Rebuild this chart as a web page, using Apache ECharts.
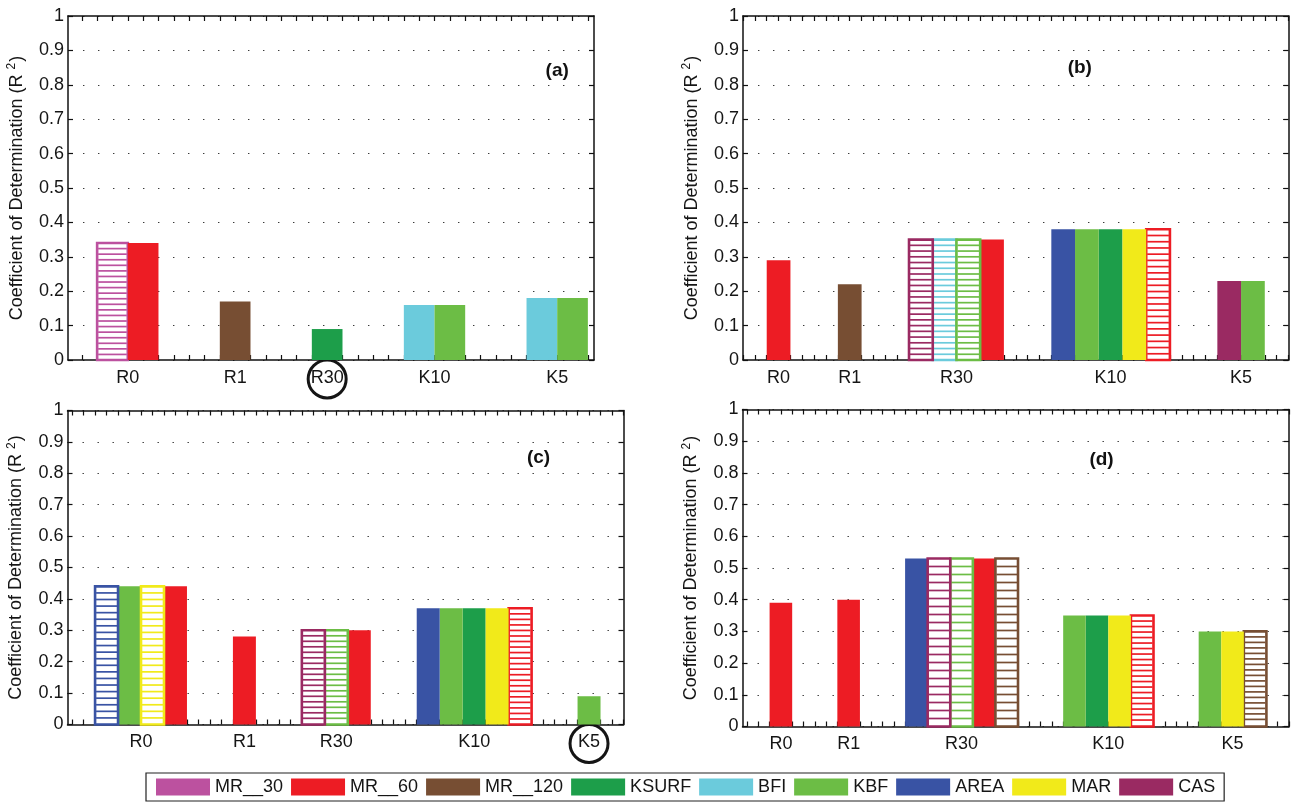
<!DOCTYPE html>
<html>
<head>
<meta charset="utf-8">
<script src="https://cdn.jsdelivr.net/npm/echarts@6/dist/echarts.min.js"></script>
<style>
  html, body { margin: 0; padding: 0; background: #fff; }
  #chart { width: 1291px; height: 802px; }
</style>
</head>
<body>
<div id="chart"></div>
<script>
// Predictor groups along each x axis
const groupNames = ['R0', 'R1', 'R30', 'K10', 'K5'];

// Series (legend order) and their colours
const seriesNames = ['MR__30', 'MR__60', 'MR__120', 'KSURF', 'BFI', 'KBF', 'AREA', 'MAR', 'CAS'];
const seriesColors = ['#BC519F', '#ED1C24', '#774E33', '#1D9E4A', '#6BCBDC', '#6CBD45', '#3953A4', '#F1EA1A', '#9A2A62'];

// R² per panel: one row per group, each bar is [series, R², hatched]
const barsA = [
  [['MR__30', 0.34, 1], ['MR__60', 0.34, 0]],
  [['MR__120', 0.17, 0]],
  [['KSURF', 0.09, 0]],
  [['BFI', 0.16, 0], ['KBF', 0.16, 0]],
  [['BFI', 0.18, 0], ['KBF', 0.18, 0]]
];
const barsB = [
  [['MR__60', 0.29, 0]],
  [['MR__120', 0.22, 0]],
  [['CAS', 0.35, 1], ['BFI', 0.35, 1], ['KBF', 0.35, 1], ['MR__60', 0.35, 0]],
  [['AREA', 0.38, 0], ['KBF', 0.38, 0], ['KSURF', 0.38, 0], ['MAR', 0.38, 0], ['MR__60', 0.38, 1]],
  [['CAS', 0.23, 0], ['KBF', 0.23, 0]]
];
const barsC = [
  [['AREA', 0.44, 1], ['KBF', 0.44, 0], ['MAR', 0.44, 1], ['MR__60', 0.44, 0]],
  [['MR__60', 0.28, 0]],
  [['CAS', 0.30, 1], ['KBF', 0.30, 1], ['MR__60', 0.30, 0]],
  [['AREA', 0.37, 0], ['KBF', 0.37, 0], ['KSURF', 0.37, 0], ['MAR', 0.37, 0], ['MR__60', 0.37, 1]],
  [['KBF', 0.09, 0]]
];
const barsD = [
  [['MR__60', 0.39, 0]],
  [['MR__60', 0.40, 0]],
  [['AREA', 0.53, 0], ['CAS', 0.53, 1], ['KBF', 0.53, 1], ['MR__60', 0.53, 0], ['MR__120', 0.53, 1]],
  [['KBF', 0.35, 0], ['KSURF', 0.35, 0], ['MAR', 0.35, 0], ['MR__60', 0.35, 1]],
  [['KBF', 0.30, 0], ['MAR', 0.30, 0], ['MR__120', 0.30, 1]]
];

const panelTags = ['(a)', '(b)', '(c)', '(d)'];
const tagPositions = [[15, 0.84], [13.2, 0.85], [19.3, 0.85], [14.7, 0.84]];
// group label to ring in each panel (-1 = none)
const ringedGroup = [2, -1, 4, -1];

const yTitle = 'Coefficient of Determination (R';
const FONT = '"Liberation Sans", Arial, Helvetica, sans-serif';

// Panel frames and x extents (in bar widths)
const panels = [
  { bars: barsA, grid: { left: 68, top: 16, width: 526, height: 344 }, xMin: -0.95, xMax: 16.2 },
  { bars: barsB, grid: { left: 743, top: 16, width: 545.5, height: 344 }, xMin: -1, xMax: 22 },
  { bars: barsC, grid: { left: 67.5, top: 410.5, width: 556, height: 314 }, xMin: -1.2, xMax: 23 },
  { bars: barsD, grid: { left: 742.5, top: 409.5, width: 546.5, height: 317 }, xMin: -1.2, xMax: 23 }
];

const GROUP_GAP = 2; // empty bar slots between groups

// Lay groups out left to right; each bar is one unit wide
function layout(bars) {
  let pos = 0;
  const centers = [];
  const placed = [];
  bars.forEach((grp) => {
    centers.push(pos + grp.length / 2);
    grp.forEach((b, bi) => placed.push({ series: b[0], value: b[1], hatched: b[2], x0: pos + bi }));
    pos += grp.length + GROUP_GAP;
  });
  return { centers, placed };
}

function renderBar(params, api) {
  const x0 = api.value(0), v = api.value(1), hatched = api.value(2);
  const tl = api.coord([x0, v]);
  const br = api.coord([x0 + 1, 0]);
  const x = tl[0], y = tl[1], w = br[0] - tl[0], h = br[1] - tl[1];
  const color = api.visual('color');
  if (!hatched) {
    return { type: 'rect', shape: { x: x, y: y, width: w, height: h }, style: { fill: color } };
  }
  const children = [{
    type: 'rect', shape: { x: x, y: y, width: w, height: h },
    style: { fill: '#fff', stroke: color, lineWidth: 2.6 }
  }];
  const step = Math.max(5.5, h / 21);
  for (let yy = y + step; yy < br[1] - 2; yy += step) {
    children.push({
      type: 'line', shape: { x1: x + 1, y1: yy, x2: x + w - 1, y2: yy },
      style: { stroke: color, lineWidth: 1.7 }
    });
  }
  return { type: 'group', children: children };
}

const grids = [], xAxes = [], yAxes = [], series = [];
const layouts = [];

panels.forEach((p, pi) => {
  const lay = layout(p.bars);
  layouts.push(lay);
  grids.push(Object.assign({ containLabel: false }, p.grid));

  const halfTicks = [];
  for (let t = Math.ceil(p.xMin * 2) / 2; t <= p.xMax + 1e-9; t += 0.5) halfTicks.push(t);

  const labelFor = (v) => {
    for (let i = 0; i < lay.centers.length; i++) {
      if (Math.abs(lay.centers[i] - v) < 1e-6) return groupNames[i];
    }
    return '';
  };

  const axisLine = { show: true, onZero: false, lineStyle: { color: '#111', width: 1.5 } };
  xAxes.push({
    gridIndex: pi, type: 'value', position: 'bottom', min: p.xMin, max: p.xMax,
    axisLine: axisLine,
    axisTick: { show: true, inside: true, length: 5, customValues: halfTicks, lineStyle: { color: '#111', width: 1.2 } },
    axisLabel: { show: true, customValues: lay.centers, formatter: labelFor, margin: 9, fontSize: 18, color: '#151515', fontFamily: FONT },
    splitLine: { show: false }
  });
  xAxes.push({
    gridIndex: pi, type: 'value', position: 'top', min: p.xMin, max: p.xMax,
    axisLine: axisLine,
    axisTick: { show: true, inside: true, length: 5, customValues: halfTicks, lineStyle: { color: '#111', width: 1.2 } },
    axisLabel: { show: false },
    splitLine: { show: false }
  });
  yAxes.push({
    gridIndex: pi, type: 'value', position: 'left', min: 0, max: 1, interval: 0.1,
    axisLine: axisLine,
    axisTick: { show: true, inside: true, length: 5, lineStyle: { color: '#111', width: 1.2 } },
    axisLabel: { margin: 4, fontSize: 18, color: '#151515', fontFamily: FONT },
    splitLine: { show: true, lineStyle: { color: '#3a3a3a', width: 1.2, type: [1.4, 13.6] } },
    name: '{t|' + yTitle + ' }{s|2}{t|)}',
    nameLocation: 'middle', nameRotate: 90, nameGap: 40,
    nameTextStyle: {
      rich: {
        t: { fontSize: 18, color: '#151515', fontFamily: FONT, lineHeight: 22 },
        s: { fontSize: 12, color: '#151515', fontFamily: FONT, verticalAlign: 'top', lineHeight: 22, padding: [0, 1, 10, 0] }
      }
    }
  });
  yAxes.push({
    gridIndex: pi, type: 'value', position: 'right', min: 0, max: 1, interval: 0.1,
    axisLine: axisLine,
    axisTick: { show: true, inside: true, length: 5, lineStyle: { color: '#111', width: 1.2 } },
    axisLabel: { show: false },
    splitLine: { show: false }
  });

  seriesNames.forEach((name, si) => {
    const data = lay.placed.filter(b => b.series === name).map(b => [b.x0, b.value, b.hatched]);
    if (!data.length) return;
    series.push({
      type: 'custom', name: name,
      xAxisIndex: pi * 2, yAxisIndex: pi * 2,
      itemStyle: { color: seriesColors[si] },
      encode: { x: 0, y: 1 },
      renderItem: renderBar,
      data: data,
      silent: true,
      z: 3
    });
  });
});

const chart = echarts.init(document.getElementById('chart'), null, { renderer: 'canvas' });
chart.setOption({
  backgroundColor: '#fff',
  animation: false,
  textStyle: { fontFamily: FONT },
  grid: grids,
  xAxis: xAxes,
  yAxis: yAxes,
  legend: {
    data: seriesNames.map((n, i) => ({ name: n, icon: 'rect', itemStyle: { color: seriesColors[i] } })),
    left: 146, top: 773,
    itemWidth: 54, itemHeight: 17, itemGap: 8,
    padding: [5, 9, 5, 10],
    borderColor: '#222', borderWidth: 1.2,
    selectedMode: false,
    textStyle: { fontSize: 18, color: '#151515', fontFamily: FONT }
  },
  series: series
});

// Panel tags and ringed group labels, placed through each panel's axes
const graphics = [];
panels.forEach((p, pi) => {
  const pt = chart.convertToPixel({ xAxisIndex: pi * 2, yAxisIndex: pi * 2 }, tagPositions[pi]);
  graphics.push({
    type: 'text', x: pt[0], y: pt[1],
    style: { text: panelTags[pi], font: 'bold 19px ' + FONT, fill: '#111', align: 'center', verticalAlign: 'middle' }
  });
  if (ringedGroup[pi] >= 0) {
    const cx = chart.convertToPixel({ xAxisIndex: pi * 2 }, layouts[pi].centers[ringedGroup[pi]]);
    const cy = p.grid.top + p.grid.height + 19;
    graphics.push({
      type: 'circle', shape: { cx: cx, cy: cy, r: 19 },
      style: { fill: null, stroke: '#151515', lineWidth: 3 }
    });
  }
});
chart.setOption({ graphic: graphics });
</script>
</body>
</html>
